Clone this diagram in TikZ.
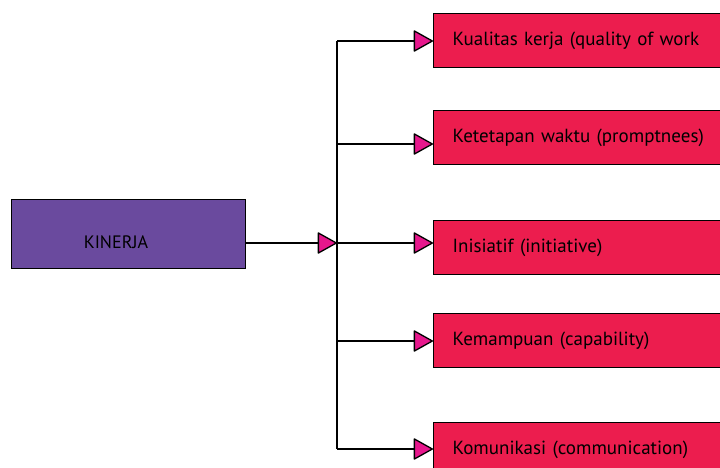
\documentclass[tikz,border=0pt]{standalone}
\usepackage{fontspec}
\setmainfont{PT Sans}
\usetikzlibrary{arrows.meta}
\definecolor{kinerjapurple}{RGB}{106,74,158}
\definecolor{aspekred}{RGB}{236,29,78}
\definecolor{tipmagenta}{RGB}{230,23,140}

\begin{document}
\begin{tikzpicture}[x=1pt, y=-1pt,
  mainbox/.style={draw=black, line width=1.2pt, fill=kinerjapurple, minimum width=234pt, minimum height=69pt, anchor=north west},
  aspek/.style={draw=black, line width=1.2pt, fill=aspekred, text width=290pt, inner xsep=19pt, minimum height=54pt, anchor=north west, align=left, font=\fontsize{19}{22}\selectfont},
  branch/.style={-{Triangle[length=20pt, width=22pt, fill=tipmagenta, round]}, line width=1.3pt}]
\useasboundingbox (0,0) rectangle (720,468);
\clip (0,0) rectangle (720,468);

\node[mainbox] (kinerja) at (11,199) {};
\node[font=\fontsize{18}{21}\selectfont] (kinerjalabel) at (116,242) {KINERJA};

\node[aspek] (k1) at (433,13) {Kualitas kerja (quality of work};
\node[aspek] (k2) at (433,110) {Ketetapan waktu (promptnees)};
\node[aspek] (k3) at (433,220) {Inisiatif (initiative)};
\node[aspek] (k4) at (433,313) {Kemampuan (capability)};
\node[aspek] (k5) at (433,422) {Komunikasi (communication)};

% trunk
\coordinate (b1) at (337,41);
\coordinate (b2) at (337,144);
\coordinate (hub) at (337,243);
\coordinate (b4) at (337,341);
\coordinate (b5) at (337,449);
\draw[line width=1.3pt] (b1) -- (b5);

\draw[branch] (kinerja.east |- hub) -- (hub);
\draw[branch] (b1) -- (b1 -| k1.west);
\draw[branch] (b2) -- (b2 -| k2.west);
\draw[branch] (hub) -- (hub -| k3.west);
\draw[branch] (b4) -- (b4 -| k4.west);
\draw[branch] (b5) -- (b5 -| k5.west);
\end{tikzpicture}
\end{document}
